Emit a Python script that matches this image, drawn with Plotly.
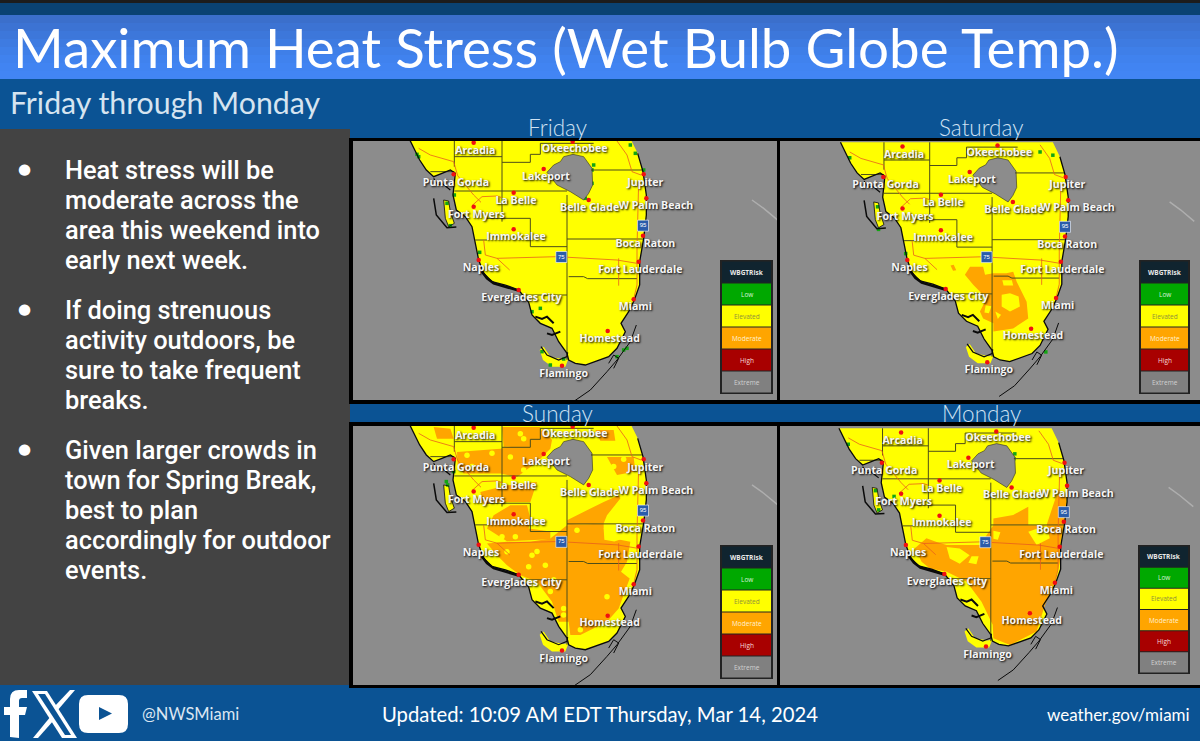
import plotly.graph_objects as go

W, H = 1200, 741

# map outline, traced in one common map frame (y runs downwards)
land_x = [176,192,208,228,250,275,300,315,312,308,318,345,365,375,385,400,425,465,505,535,545,570,605,625,650,655,675,705,745,775,800,825,812,835,852,868,868,880,888,888,878,862,840]
land_y = [70,105,135,165,185,175,165,175,205,240,285,305,335,385,435,475,500,510,525,562,600,625,640,680,715,735,745,750,735,725,700,650,625,590,555,510,440,370,300,240,170,115,70]
cape_x = [568,580,600,640,655,645,605,578]
cape_y = [705,695,725,733,730,755,755,735]
pine_x = [280,295,300,312,295,285]
pine_y = [255,258,290,325,335,310]
lake_x = [640,668,700,725,727,715,700,660,620,590,610,630]
lake_y = [125,118,125,160,210,235,255,230,210,172,150,140]
keys_x = [672,720,770,800,840,858]
keys_y = [858,825,770,735,680,630]
far_keys_x = [1205,1240,1282]
far_keys_y = [255,280,315]
inlets = [
    ([395,410,430,465,505],[470,490,505,515,527],2.5),
    ([555,575,590,610],[605,612,605,625],2),
    ([590,605,630],[655,660,650],2),
    ([572,590,625,650,652],[695,720,735,725,712],1.2),
    ([250,262,275,300],[190,210,205,225],1.2),
    ([250,258,290,318],[250,300,338,336],1.5),
    ([775,790,805,790],[745,720,730,760],1),
]

county_lines = [
    ([312,312],[70,155]), ([312,455],[125,125]), ([455,455],[70,320]),
    ([312,650],[228,228]), ([455,540,540,570,570,730],[142,142,118,118,85,85]),
    ([650,650],[240,735]), ([650,880],[372,372]), ([655,700,712,860],[485,485,491,491]),
    ([405,540,540,650],[310,310,395,395]), ([375,410],[375,375]), ([505,650],[540,540]),
    ([722,878],[165,165]), ([240,312],[170,170]),
]
road_lines = [
    ([205,240,310,322,370,392],[100,120,140,182,240,262]),
    ([400,405,440,620,800,860],[375,420,430,425,435,445]),
    ([800,830,845,872],[78,120,170,180]),
    ([865,860,860,850],[200,400,510,552]),
    ([805,805],[430,512]),
    ([440,478],[430,465]),
    ([365,395,440,455],[272,245,243,248]),
]

# cities
city_names = ["Arcadia","Okeechobee","Lakeport","Punta Gorda","Jupiter","La Belle","Belle Glade","W Palm Beach","Fort Myers","Immokalee","Boca Raton","Fort Lauderdale","Naples","Everglades City","Miami","Homestead","Flamingo"]
city_x = [370,667,580,310,880,490,715,888,370,490,878,865,385,505,850,772,635]
city_y = [83,80,162,178,178,233,255,250,275,343,362,440,435,525,553,648,752]
label_x = [375,673,587,317,885,497,718,917,378,497,885,870,392,513,855,778,640]
label_y = [110,103,187,205,205,260,281,275,302,368,388,466,460,550,578,672,778]
shield_x = [633,878]
shield_y = [426,332]
shield_text = ["75","95"]

# risk areas per day
fri_moderate = []
sat_moderate = [
    ([581,622,628,654,695,716,727,758,763,716,654,654,622,612,633,591,565],[456,456,481,476,476,471,502,564,616,647,657,631,616,595,554,512,481]),
    ([520,530,538,528],[452,450,467,468]),
]
sat_holes = [
    ([682,712,716,686],[498,498,514,514]),
    ([680,706,733,737,706,680],[543,538,548,579,595,579]),
    ([660,678,668],[595,605,618]),
    ([630,648,640,626],[575,578,600,598]),
]
sun_moderate = [
    ([410,470,540,600,650,760,760,790,840,830,812,838,805,770,690,660,655,625,605,560,510,470,440],[431,426,426,416,376,371,386,416,426,486,516,536,626,666,706,706,666,666,606,546,526,496,466]),
    ([650,710,760,805,810,770,760,650],[361,331,306,286,296,346,371,376]),
    ([430,480,530,540,535,600,600,470,410],[346,316,316,356,386,395,418,424,386]),
    ([320,450,530,580,605,600,560,500,450,340,322],[156,146,126,86,120,146,186,231,221,221,196]),
    ([250,300,310,260],[81,86,116,116]),
    ([455,570,570,530,460],[81,81,116,136,141]),
    ([390,430,470,560,540,430,400],[276,266,256,246,306,306,316]),
    ([770,850,855,800],[171,171,215,225]),
    ([735,790,795,750],[90,90,122,122]),
]
sun_holes = [([760,800,812,792,762],[385,365,418,425,420])]
sun_dots_x = [350,480,510,520,410,455,495,545,535,470,770,640,585,400,640,365,425,610,600,690,560,520,790,680,785,820]
sun_dots_y = [166,171,101,116,406,411,411,466,501,456,591,626,496,321,646,200,160,540,575,690,455,210,200,391,350,178]
mon_moderate = [
    ([658,767,824,855,887,881,866,866,850,819,793,710,658,656,621,574,512,460,434,413,449,481,512,616],[373,373,373,279,284,352,435,487,549,622,705,747,726,684,612,549,518,508,487,445,414,425,435,435]),
    ([658,720,767,767,658],[352,341,315,373,373]),
]
mon_holes = [
    ([512,553,584,553,522],[441,446,467,493,477]),
    ([767,824,834,793],[393,373,414,435]),
    ([658,680,672,658],[390,395,418,415]),
    ([590,612,605,580],[470,470,495,490]),
]
fri_green_x = [200,730,725,855,880,388,570,575,600,640,830,705,312,290,300,840,820,545,205,725,800]
fri_green_y = [118,150,205,115,165,412,580,710,750,732,700,250,240,265,332,90,705,590,125,165,725]
sat_green_x = [712,710,292,295,380,800,205,840,818]
sat_green_y = [155,170,270,340,415,100,118,110,720]
sun_green_x = [288,292,310]
sun_green_y = [245,255,215]
mon_green_x = [725,722,348,290,300,205]
mon_green_y = [150,165,283,265,325,120]

days = ["Friday","Saturday","Sunday","Monday"]
day_label_x = [557,981,557,981]
day_label_y = [127,127,413,413]
moderate_by_day = [fri_moderate, sat_moderate, sun_moderate, mon_moderate]
holes_by_day = [[], sat_holes, sun_holes, mon_holes]
green_x_by_day = [fri_green_x, sat_green_x, sun_green_x, mon_green_x]
green_y_by_day = [fri_green_y, sat_green_y, sun_green_y, mon_green_y]

# pixel rectangles of the four map panels and what part of the map frame they show
panel_px = [(353,141,777,400),(780,141,1200,400),(353,426,777,685),(780,426,1200,685)]
panel_xrange = [(8,1280),(-13,1300),(8,1280),(-8,1303)]
panel_yrange = [(855,78),(869,66),(856,78),(872,63)]
legend_px = [(721,261,772,393),(1140,261,1189,393),(721,546,772,678),(1139,546,1189,673)]

legend_labels = ["WBGTRisk","Low","Elevated","Moderate","High","Extreme"]
legend_colors = ["#10242f","#00a800","#ffff00","#ffa500","#a80000","#808080"]
legend_text = ["#e8e8e8","#d8f0d8","#8f8f3c","#fff0d0","#f4dada","#d0d0d0"]

bullet_lines = [
    ["Heat stress will be","moderate across the","area this weekend into","early next week."],
    ["If doing strenuous","activity outdoors, be","sure to take frequent","breaks."],
    ["Given larger crowds in","town for Spring Break,","best to plan","accordingly for outdoor","events."],
]
bullet_first_y = [170,310,450]

title_text = "Maximum Heat Stress (Wet Bulb Globe Temp.)"
subtitle_text = "Friday through Monday"
handle_text = "@NWSMiami"
updated_text = "Updated: 10:09 AM EDT Thursday, Mar 14, 2024"
site_text = "weather.gov/miami"

BLUE = "#0b5394"
GREY = "#8c8c8c"
YELLOW = "#ffff00"
ORANGE = "#ffa500"
GREEN = "#12a512"
HEAD_FONT = "Lato"

fig = go.Figure()
shapes = []
notes = []


def rect(x0, y0, x1, y1, color, layer="below", line=None):
    shapes.append(dict(type="rect", xref="x", yref="y", x0=x0, y0=y0, x1=x1, y1=y1,
                       fillcolor=color, layer=layer,
                       line=dict(width=0) if line is None else line))


def path(d, color, layer="below"):
    shapes.append(dict(type="path", xref="x", yref="y", path=d, fillcolor=color,
                       layer=layer, line=dict(width=0)))


def note(x, y, text, size, color="#ffffff", anchor="center", family=HEAD_FONT, weight=None):
    notes.append(dict(xref="x", yref="y", x=x, y=y, text=text, showarrow=False,
                      xanchor=anchor, yanchor="middle",
                      font=dict(family=family, size=size, color=color, weight=weight)))


# page furniture
rect(0, 0, W, H, BLUE)
rect(0, 0, W, 3, "#1c1c1c")
rect(0, 3, W, 15, "#0a4272")
band = ["#3b6fcb","#3c73d3","#3d77da","#3e7be1","#3f7fe8","#4082ee","#4184f2","#4285f4"]
for i, c in enumerate(band):
    rect(0, 15 + i * 8, W, 15 + (i + 1) * 8, c)
rect(0, 129, 350, 685, "#434343")

# black frames round the maps, then grey sea
rect(349, 138, 1200, 404, "#000000")
rect(349, 422, 1200, 688, "#000000")
for p in panel_px:
    rect(p[0], p[1], p[2], p[3], GREY)

# social icons
path("M10,737 L10,715 L4,715 L4,707 L10,707 L10,699 Q10,690 19,690 L27,690 L27,698 L22,698 "
     "Q19,698 19,701 L19,707 L27,707 L25,715 L19,715 L19,738 Z", "#ffffff")
path("M32,691 L47,691 L77,738 L62,738 Z", "#ffffff")
path("M38,694 L45,694 L71,735 L65,735 Z", BLUE)
path("M70,690 L75,690 L57,711 L54,707 Z", "#ffffff")
path("M33,738 L51,716 L54,720 L38,738 Z", "#ffffff")
path("M88,695 L119,695 Q128,695 128,704 L128,724 Q128,733 119,733 L88,733 Q79,733 79,724 "
     "L79,704 Q79,695 88,695 Z", "#ffffff")
path("M99,707 L112,713.5 L99,720 Z", BLUE)

note(11, 47, title_text, 54.7, anchor="left", weight=400)
note(8, 102, subtitle_text, 30.3, color="#d6e4f0", anchor="left", weight=400)
note(140, 714, handle_text, 16.5, color="#dbe6f2", anchor="left")
note(380, 714, updated_text, 20.3, anchor="left")
note(1045, 714, site_text, 17, anchor="left")
for lab, lx, ly in zip(days, day_label_x, day_label_y):
    note(lx, ly, lab, 22.5, color="#cfe2f3", weight=300)

for group, y0 in zip(bullet_lines, bullet_first_y):
    note(24, y0 - 1, "●", 15, family="DejaVu Sans")
    for i, line in enumerate(group):
        note(63, y0 + i * 30, line, 25.4, anchor="left", family="Roboto", weight=500)

# pixel frame for all the furniture
fig.add_trace(go.Scatter(x=[0, W], y=[0, H], mode="markers", marker=dict(opacity=0),
                         hoverinfo="skip", showlegend=False))

layout_axes = dict(
    xaxis=dict(domain=[0, 1], range=[0, W], visible=False, fixedrange=True),
    yaxis=dict(domain=[0, 1], range=[H, 0], visible=False, fixedrange=True),
)


def poly(xs, ys, color, ax, ay):
    fig.add_trace(go.Scatter(x=xs, y=ys, mode="lines", fill="toself", fillcolor=color,
                             line=dict(width=0), hoverinfo="skip", showlegend=False,
                             xaxis=ax, yaxis=ay))


def polyline(xs, ys, color, width, ax, ay):
    fig.add_trace(go.Scatter(x=xs, y=ys, mode="lines", line=dict(color=color, width=width),
                             hoverinfo="skip", showlegend=False, xaxis=ax, yaxis=ay))


for n in range(4):
    ax, ay = "x%d" % (n + 2), "y%d" % (n + 2)
    p = panel_px[n]
    layout_axes["xaxis%d" % (n + 2)] = dict(domain=[p[0] / W, p[2] / W], range=panel_xrange[n],
                                            visible=False, fixedrange=True, anchor=ay)
    layout_axes["yaxis%d" % (n + 2)] = dict(domain=[1 - p[3] / H, 1 - p[1] / H], range=panel_yrange[n],
                                            visible=False, fixedrange=True, anchor=ax)

    poly(land_x, land_y, YELLOW, ax, ay)
    poly(cape_x, cape_y, YELLOW, ax, ay)
    poly(pine_x, pine_y, YELLOW, ax, ay)
    for xs, ys in moderate_by_day[n]:
        poly(xs, ys, ORANGE, ax, ay)
    for xs, ys in holes_by_day[n]:
        poly(xs, ys, YELLOW, ax, ay)
    if days[n] == "Sunday":
        fig.add_trace(go.Scatter(x=sun_dots_x, y=sun_dots_y, mode="markers",
                                 marker=dict(color=YELLOW, size=5.5, symbol="circle"),
                                 hoverinfo="skip", showlegend=False, xaxis=ax, yaxis=ay))
    fig.add_trace(go.Scatter(x=green_x_by_day[n], y=green_y_by_day[n], mode="markers",
                             marker=dict(color=GREEN, size=3.5, symbol="square"),
                             hoverinfo="skip", showlegend=False, xaxis=ax, yaxis=ay))
    poly(lake_x, lake_y, GREY, ax, ay)

    for xs, ys in county_lines:
        polyline(xs, ys, "#4d4d1a", 1, ax, ay)
    for xs, ys in road_lines:
        polyline(xs, ys, "#e8601c", 0.8, ax, ay)

    polyline(land_x[:-1], land_y[:-1], "#0a0a0a", 1.3, ax, ay)
    polyline(lake_x + lake_x[:1], lake_y + lake_y[:1], "#33331a", 0.6, ax, ay)
    polyline(pine_x + pine_x[:1], pine_y + pine_y[:1], "#0a0a0a", 0.8, ax, ay)
    for xs, ys, lw in inlets:
        polyline(xs, ys, "#0a0a0a", lw, ax, ay)
    polyline(keys_x, keys_y, "#0a0a0a", 1, ax, ay)
    polyline(far_keys_x, far_keys_y, "#aeaeae", 1.5, ax, ay)

    fig.add_trace(go.Scatter(x=shield_x, y=shield_y, mode="markers+text", text=shield_text,
                             textposition="middle center",
                             textfont=dict(family="Liberation Sans", size=6, color="#ffffff"),
                             marker=dict(color="#2a5caa", size=11, symbol="square",
                                         line=dict(color="#ffffff", width=0.6)),
                             hoverinfo="skip", showlegend=False, xaxis=ax, yaxis=ay))
    fig.add_trace(go.Scatter(x=city_x, y=city_y, mode="markers",
                             marker=dict(color="#f01010", size=4.5),
                             hoverinfo="skip", showlegend=False, xaxis=ax, yaxis=ay))
    fig.add_trace(go.Scatter(x=label_x, y=label_y, mode="text", text=city_names,
                             textposition="middle center",
                             textfont=dict(family="Open Sans", size=10.6, color="#f6f6f6", weight=700,
                                           shadow="1px 1px 2px #000000"),
                             hoverinfo="skip", showlegend=False, xaxis=ax, yaxis=ay))

    # risk legend box
    lx0, ly0, lx1, ly1 = legend_px[n]
    rect(lx0 - 1, ly0 - 1, lx1 + 1, ly1 + 1, "#222222", layer="above")
    step = (ly1 - ly0) / len(legend_labels)
    for i, (lab, col, tc) in enumerate(zip(legend_labels, legend_colors, legend_text)):
        rect(lx0 + 1, ly0 + i * step + 0.5, lx1 - 1, ly0 + (i + 1) * step - 0.5, col, layer="above")
        note((lx0 + lx1) / 2, ly0 + (i + 0.5) * step, lab, 6.5, color=tc,
             family="Open Sans", weight=700 if i == 0 else 400)

fig.update_layout(
    width=W, height=H, margin=dict(l=0, r=0, t=0, b=0), autosize=False,
    paper_bgcolor=BLUE, plot_bgcolor="rgba(0,0,0,0)", showlegend=False,
    shapes=shapes, annotations=notes, **layout_axes,
)

fig.write_html("out.html", config=dict(displayModeBar=False),
               post_script="document.body.style.margin='0';")
